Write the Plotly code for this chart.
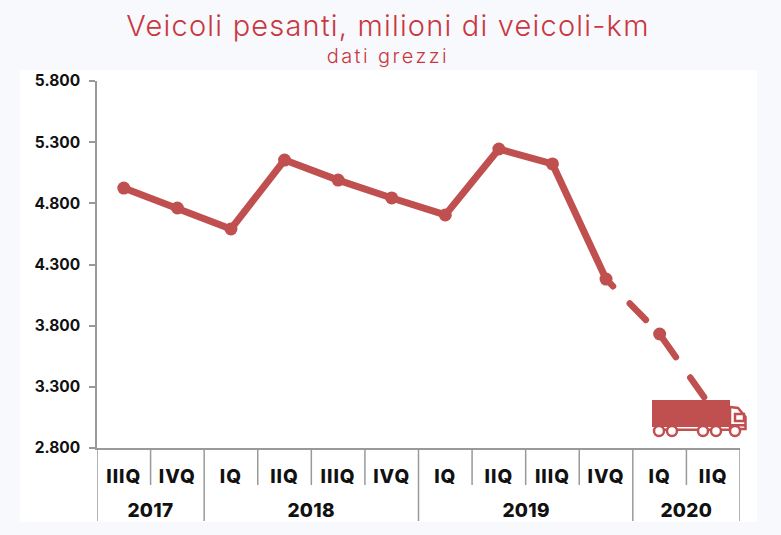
import plotly.graph_objects as go

years = ["2017", "2018", "2019", "2020"]
quarters_per_year = [2, 4, 4, 2]
quarters = ["IIIQ", "IVQ", "IQ", "IIQ", "IIIQ", "IVQ", "IQ", "IIQ", "IIIQ", "IVQ", "IQ", "IIQ"]
values = [4925, 4762, 4590, 5154, 4990, 4844, 4705, 5244, 5122, 4181, 3732, 3110]
y_ticks = [2800, 3300, 3800, 4300, 4800, 5300, 5800]
y_labels = ["2.800", "3.300", "3.800", "4.300", "4.800", "5.300", "5.800"]

W, H = 781, 535
L, R, T, B = 97, 740, 81, 448
RED = "#c0504f"
TITLE_RED = "#c9383f"
GREY = "#999999"
BG = "#f8f9fd"
FONT = "Inter"
idx = list(range(len(quarters)))


def sx(x):
    return (x - L) / (R - L)


def sy(y):
    return (B - y) / (B - T)


fig = go.Figure()
fig.add_trace(go.Scatter(
    x=idx[:10], y=values[:10], mode="lines+markers",
    line=dict(color=RED, width=7), marker=dict(color=RED, size=13),
    hoverinfo="skip", showlegend=False,
))
fig.add_trace(go.Scatter(
    x=idx[9:], y=values[9:], mode="lines",
    line=dict(color=RED, width=6.5, dash="10px,24px,23px,21px,27px,25px,24px,100px"),
    hoverinfo="skip", showlegend=False,
))
fig.add_trace(go.Scatter(
    x=idx[10:11], y=values[10:11], mode="markers",
    marker=dict(color=RED, size=13), hoverinfo="skip", showlegend=False,
))

shapes = [dict(type="rect", xref="paper", yref="paper", layer="below",
               x0=sx(20), x1=sx(757), y0=sy(522), y1=sy(70),
               fillcolor="white", line_width=0)]

# dividers under the axis: short between quarters, long between years
boundaries = [0]
for n in quarters_per_year:
    boundaries.append(boundaries[-1] + n)
for k in range(len(quarters) + 1):
    end = 521 if k in boundaries else 485
    shapes.append(dict(type="line", xref="x", yref="paper", x0=k - 0.5, x1=k - 0.5,
                       y0=sy(448), y1=sy(end), line=dict(color=GREY, width=1.5)))


def rect(x0, y0, x1, y1, fill=RED, line=0):
    shapes.append(dict(type="rect", xref="paper", yref="paper",
                       x0=sx(x0), x1=sx(x1), y0=sy(y1), y1=sy(y0), fillcolor=fill,
                       line=dict(color=RED, width=line)))


# truck icon
rect(652, 400, 730, 427)
rect(659, 428.5, 735, 431)
cab = [(730, 407), (738, 408), (745.5, 417), (745.5, 429), (730, 429)]
shapes.append(dict(type="path", xref="paper", yref="paper",
                   path="M " + " L ".join(f"{sx(a):.5f},{sy(b):.5f}" for a, b in cab) + " Z",
                   fillcolor="white", line=dict(color=RED, width=2.5)))
rect(735, 414, 744, 421, fill="white", line=2.5)
rect(730, 424, 746, 426.5)
for cx in (659, 672, 703, 716, 735):
    shapes.append(dict(type="circle", xref="paper", yref="paper",
                       x0=sx(cx - 5), x1=sx(cx + 5), y0=sy(436), y1=sy(426),
                       fillcolor="white", line=dict(color=RED, width=2.5)))

annotations = [dict(text="dati grezzi", xref="paper", yref="paper", x=sx(388), y=sy(56),
                    xanchor="center", yanchor="middle", showarrow=False,
                    font=dict(family=FONT, size=20, color=TITLE_RED, weight=300))]
for year, a, b in zip(years, boundaries[:-1], boundaries[1:]):
    annotations.append(dict(text=year, xref="x", yref="paper", x=(a + b - 1) / 2, y=sy(510),
                            xanchor="center", yanchor="middle", showarrow=False,
                            font=dict(family=FONT, size=19, color="#111111", weight=800)))

fig.update_layout(
    width=W, height=H, autosize=False,
    margin=dict(l=L, r=W - R, t=T, b=H - B, pad=0),
    paper_bgcolor=BG, plot_bgcolor="white", shapes=shapes, annotations=annotations,
    title=dict(text="Veicoli pesanti, milioni di veicoli-km", x=388 / W, xanchor="center",
               y=1 - 26 / H, yanchor="middle",
               font=dict(family=FONT, size=29, color=TITLE_RED, weight=300)),
    xaxis=dict(range=[-0.5, 11.5], tickvals=idx, ticktext=quarters, showgrid=False,
               zeroline=False, showline=True, linecolor=GREY, linewidth=1.5, ticks="",
               ticklabelstandoff=10,
               tickfont=dict(family=FONT, size=19, color="#111111", weight=800)),
    yaxis=dict(range=[2800, 5800], tickvals=y_ticks, ticktext=y_labels, showgrid=False,
               zeroline=False, showline=True, linecolor=GREY, linewidth=1.5,
               ticks="outside", ticklen=6, tickcolor=GREY, tickwidth=1.5,
               ticklabelstandoff=6,
               tickfont=dict(family=FONT, size=15.5, color="#111111", weight=700)),
)

post = """
var s=document.createElement('style');
s.textContent="body{margin:0}.js-line{stroke-linecap:round}"
 +".gtitle{letter-spacing:1.2px}"
 +".annotation[data-index='0'] text{letter-spacing:2.4px}"
 +".xtick text{letter-spacing:1px}"
 +".annotation:not([data-index='0']) text{letter-spacing:.3px}";
document.head.appendChild(s);
"""
fig.write_html("out.html", post_script=post, config=dict(displayModeBar=False))
